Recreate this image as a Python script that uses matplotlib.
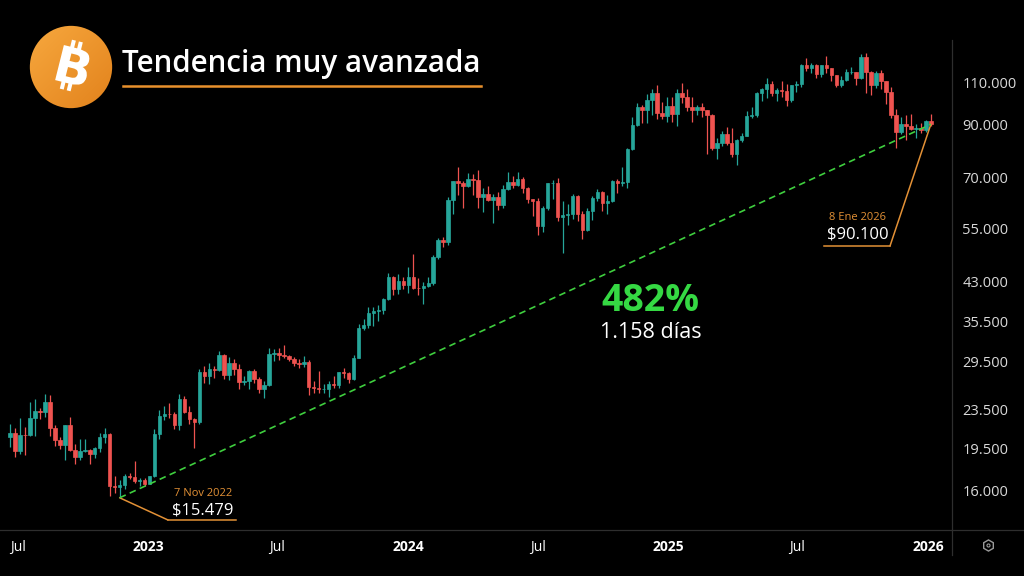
import datetime as dt
import numpy as np
import matplotlib
matplotlib.use("Agg")
import matplotlib.pyplot as plt
import matplotlib.dates as mdates
from matplotlib.lines import Line2D
from matplotlib.patches import Circle, PathPatch
from matplotlib.ticker import NullLocator
from matplotlib.textpath import TextPath
from matplotlib.font_manager import FontProperties
from matplotlib.transforms import Affine2D

plt.rcParams['font.family'] = ['Open Sans', 'DejaVu Sans']

# ---------------- data (weekly BTC candles, thousands of USD) ----------------
first_week = dt.datetime(2022, 6, 20)

opens_2022 = [20.57, 21.03, 19.30, 20.85, 20.78, 22.58, 23.30, 23.18, 24.31, 21.52, 20.28, 19.83, 21.83, 19.42,
              18.80, 19.31, 19.42, 19.07, 19.57, 20.63, 20.92, 16.33, 16.29, 16.44, 17.12, 17.10, 16.74, 16.84]
highs_2022 = [21.87, 21.48, 22.50, 21.60, 24.28, 24.67, 23.65, 25.21, 25.10, 21.80, 20.58, 21.86, 22.67, 19.95,
              20.38, 20.47, 19.52, 19.70, 20.98, 21.48, 21.05, 17.19, 16.82, 17.32, 17.42, 18.39, 16.96, 16.96]
lows_2022 = [19.64, 18.78, 19.00, 18.91, 20.76, 20.71, 22.40, 22.66, 20.76, 19.80, 19.52, 18.54, 19.32, 18.15,
             18.47, 19.20, 18.19, 18.65, 19.23, 20.05, 15.59, 15.81, 15.479, 16.11, 16.88, 16.56, 16.40, 16.33]
closes_2022 = [21.03, 19.30, 20.85, 20.78, 22.58, 23.30, 23.18, 24.31, 21.52, 20.28, 19.83, 21.83, 19.42, 18.80,
               19.31, 19.42, 19.07, 19.57, 20.63, 20.92, 16.33, 16.29, 16.44, 17.12, 17.10, 16.74, 16.84, 16.55]

opens_2023 = [16.55, 17.12, 20.88, 22.71, 23.03, 22.93, 21.78, 24.63, 23.18, 22.43, 22.13, 28.04, 27.48, 28.45,
              28.32, 30.31, 27.59, 29.23, 28.43, 26.77, 26.85, 28.08, 27.12, 25.85, 26.34, 30.54, 30.59, 30.29,
              30.23, 29.80, 29.28, 29.05, 29.40, 26.09, 26.01, 25.82, 25.82, 26.53, 26.30, 27.98, 27.92, 27.15,
              29.99, 34.53, 35.01, 37.06, 37.39, 37.45, 39.46, 43.77, 41.37, 42.99]
highs_2023 = [17.18, 21.44, 23.37, 23.82, 24.25, 23.16, 25.25, 25.02, 23.89, 22.60, 28.47, 28.87, 29.18, 28.75,
              31.00, 30.48, 30.04, 29.84, 29.06, 27.49, 28.26, 28.45, 27.40, 26.80, 31.43, 31.28, 31.38, 31.82,
              30.35, 30.08, 29.73, 30.24, 29.69, 26.80, 28.15, 26.43, 26.83, 27.48, 28.05, 28.58, 28.00, 30.38,
              35.20, 35.98, 38.00, 37.98, 38.42, 39.79, 44.72, 44.04, 44.40, 43.80]
lows_2023 = [16.52, 17.10, 20.41, 22.30, 22.54, 21.45, 21.35, 23.11, 21.97, 19.57, 21.90, 26.60, 26.51, 27.20,
             28.20, 27.12, 26.94, 27.66, 25.81, 26.33, 25.88, 26.57, 25.35, 24.75, 26.26, 29.52, 29.70, 29.95,
             29.50, 28.86, 28.57, 28.70, 25.17, 25.36, 25.37, 25.33, 24.90, 26.00, 25.99, 27.25, 26.54, 26.96,
             29.88, 34.08, 34.52, 34.80, 35.63, 36.87, 39.29, 40.23, 40.52, 41.52]
closes_2023 = [17.12, 20.88, 22.71, 23.03, 22.93, 21.78, 24.63, 23.18, 22.43, 22.13, 28.04, 27.48, 28.45, 28.32,
               30.31, 27.59, 29.23, 28.43, 26.77, 26.85, 28.08, 27.12, 25.85, 26.34, 30.54, 30.59, 30.29, 30.23,
               29.80, 29.28, 29.05, 29.40, 26.09, 26.01, 25.82, 25.82, 26.53, 26.30, 27.98, 27.92, 27.15, 29.99,
               34.53, 35.01, 37.06, 37.39, 37.45, 39.46, 43.77, 41.37, 42.99, 42.28]

opens_2024 = [42.28, 43.94, 41.73, 41.58, 42.03, 42.58, 48.30, 52.14, 51.73, 63.11, 68.96, 68.39, 67.21, 69.65,
              69.36, 64.01, 64.94, 63.12, 63.89, 61.48, 66.27, 68.50, 67.75, 69.65, 66.64, 63.21, 62.68, 55.86,
              60.80, 68.16, 68.25, 58.12, 58.71, 58.91, 64.22, 58.97, 54.84, 59.99, 63.58, 65.60, 62.09, 62.85,
              69.00, 68.42, 68.74, 80.37, 89.85, 97.70, 96.41, 101.17, 104.46, 95.19, 93.72]
highs_2024 = [45.88, 48.97, 43.58, 42.84, 43.86, 48.59, 52.82, 52.98, 64.00, 69.00, 73.78, 68.92, 71.77, 71.34,
              72.80, 66.88, 67.24, 64.73, 65.50, 67.70, 71.98, 70.62, 71.95, 70.20, 66.95, 63.38, 63.78, 61.35,
              68.30, 69.40, 70.08, 62.75, 61.80, 65.00, 64.50, 59.81, 60.67, 64.13, 66.50, 65.90, 64.50, 69.40,
              69.50, 73.62, 80.52, 93.48, 99.59, 98.70, 104.09, 106.53, 108.35, 99.96, 102.72]
lows_2024 = [40.75, 41.50, 40.28, 38.56, 41.82, 42.26, 47.72, 50.55, 50.90, 59.00, 64.50, 60.78, 66.90, 64.49,
             60.66, 59.60, 62.79, 56.55, 60.19, 60.75, 66.06, 66.65, 67.47, 65.06, 62.26, 58.40, 53.48, 54.27,
             60.05, 63.45, 57.12, 49.00, 56.12, 57.78, 57.20, 52.55, 54.59, 57.49, 62.70, 59.83, 58.95, 62.59,
             65.05, 67.48, 66.84, 79.96, 89.38, 90.79, 90.50, 94.25, 92.23, 92.60, 91.22]
closes_2024 = [43.94, 41.73, 41.58, 42.03, 42.58, 48.30, 52.14, 51.73, 63.11, 68.96, 68.39, 67.21, 69.65, 69.36,
               64.01, 64.94, 63.12, 63.89, 61.48, 66.27, 68.50, 67.75, 69.65, 66.64, 63.21, 62.68, 55.86, 60.80,
               68.16, 68.25, 58.12, 58.71, 58.91, 64.22, 58.97, 54.84, 59.99, 63.58, 65.60, 62.09, 62.85, 69.00,
               68.42, 68.74, 80.37, 89.85, 97.70, 96.41, 101.17, 104.46, 95.19, 93.72, 98.36]

opens_2025 = [98.36, 94.55, 104.56, 102.62, 97.70, 96.46, 97.58, 96.26, 94.27, 80.73, 82.58, 86.08, 82.39, 78.37,
              83.73, 85.17, 93.75, 94.28, 104.64, 106.45, 109.00, 104.64, 105.73, 105.59, 100.96, 108.36, 109.20,
              119.09, 117.27, 119.45, 114.21, 119.31, 117.41, 113.49, 108.24, 111.14, 115.27, 115.31, 112.16,
              123.51, 115.07, 108.64, 114.57, 110.54, 104.72, 94.26, 86.83, 90.39, 89.40, 88.17, 88.40, 87.80,
              91.40]
highs_2025 = [102.72, 106.42, 109.59, 106.46, 102.50, 98.83, 99.48, 96.50, 94.42, 84.54, 87.45, 88.77, 88.50, 83.99,
              86.50, 95.76, 97.90, 104.97, 107.11, 111.98, 110.72, 106.80, 110.50, 108.95, 108.53, 110.53, 119.49,
              123.22, 120.25, 119.80, 119.40, 124.47, 117.54, 113.64, 113.38, 116.78, 117.90, 115.42, 125.70,
              126.20, 115.97, 116.04, 116.40, 110.77, 107.50, 96.64, 93.09, 94.17, 94.59, 90.40, 90.55, 91.90,
              94.70]
lows_2025 = [91.20, 89.26, 99.50, 96.15, 91.23, 94.09, 93.39, 78.26, 80.00, 76.61, 81.18, 81.65, 77.15, 74.51,
             83.01, 85.14, 92.80, 93.38, 100.72, 102.00, 103.07, 100.37, 102.66, 98.20, 100.00, 105.10, 107.47,
             115.74, 114.72, 112.00, 112.65, 114.66, 110.68, 107.35, 107.26, 110.62, 114.38, 108.65, 111.56,
             104.58, 103.53, 106.79, 106.30, 98.94, 93.01, 80.60, 86.11, 83.82, 87.70, 84.40, 86.60, 86.90,
             89.30]
closes_2025 = [94.55, 104.56, 102.62, 97.70, 96.46, 97.58, 96.26, 94.27, 80.73, 82.58, 86.08, 82.39, 78.37, 83.73,
               85.17, 93.75, 94.28, 104.64, 106.45, 109.00, 104.64, 105.73, 105.59, 100.96, 108.36, 109.20, 119.09,
               117.27, 119.45, 114.21, 119.31, 117.41, 113.49, 108.24, 111.14, 115.27, 115.31, 112.16, 123.51,
               115.07, 108.64, 114.57, 110.54, 104.72, 94.26, 86.83, 90.39, 89.40, 88.17, 88.40, 87.80, 91.40,
               90.10]

y_ticks = [16000, 19500, 23500, 29500, 35500, 43000, 55000, 70000, 90000, 110000]
y_tick_labels = ['16.000', '19.500', '23.500', '29.500', '35.500', '43.000', '55.000', '70.000', '90.000', '110.000']
x_tick_dates = [dt.datetime(2022, 7, 1), dt.datetime(2023, 1, 1), dt.datetime(2023, 7, 1), dt.datetime(2024, 1, 1),
                dt.datetime(2024, 7, 1), dt.datetime(2025, 1, 1), dt.datetime(2025, 7, 1), dt.datetime(2026, 1, 1)]
x_tick_labels = ['Jul', '2023', 'Jul', '2024', 'Jul', '2025', 'Jul', '2026']

title = 'Tendencia muy avanzada'
pct_text = '482%'
days_text = '1.158 días'
low_date_text, low_price_text = '7 Nov 2022', '$15.479'
last_date_text, last_price_text = '8 Ene 2026', '$90.100'

# ---------------------------------------------------------------------------
opens = np.array(opens_2022 + opens_2023 + opens_2024 + opens_2025) * 1000
highs = np.array(highs_2022 + highs_2023 + highs_2024 + highs_2025) * 1000
lows = np.array(lows_2022 + lows_2023 + lows_2024 + lows_2025) * 1000
closes = np.array(closes_2022 + closes_2023 + closes_2024 + closes_2025) * 1000
dates = [first_week + dt.timedelta(weeks=i) for i in range(len(closes))]
xs = mdates.date2num(dates)

W, H = 1024, 576
fig = plt.figure(figsize=(W / 100, H / 100), dpi=100, facecolor='black')
AX_R, AX_B = 952, 530
ax = fig.add_axes([0, (H - AX_B) / H, AX_R / W, AX_B / H])
ax.set_facecolor('black')

GREEN, RED = '#26a69a', '#ef5350'
cols = np.where(closes >= opens, GREEN, RED)
ax.vlines(xs, lows, highs, colors=cols, lw=0.9, zorder=2)
ax.bar(xs, closes - opens, bottom=opens, width=4.8, color=cols, edgecolor=cols, linewidth=0.5, zorder=3)

ax.set_yscale('log')
ax.set_ylim(13296, 161950)
k = 910 / 1280.0  # px per day
ax.set_xlim(mdates.date2num(dt.datetime(2022, 7, 1)) - 18 / k,
            mdates.date2num(dt.datetime(2026, 1, 1)) + (AX_R - 928) / k)

ax.yaxis.tick_right()
ax.set_yticks(y_ticks)
ax.set_yticklabels(y_tick_labels)
ax.yaxis.set_minor_locator(NullLocator())
ax.tick_params(axis='y', length=0, pad=7.5, labelsize=10.5, labelcolor='#d9d9d9')

ax.set_xticks(mdates.date2num(x_tick_dates))
ax.set_xticklabels(x_tick_labels)
ax.tick_params(axis='x', length=0, pad=7, labelsize=10, labelcolor='white')
for lab in ax.get_xticklabels():
    if lab.get_text().isdigit():
        lab.set_fontweight('bold')
for s in ax.spines.values():
    s.set_visible(False)

# separators
fig.add_artist(Line2D([AX_R / W, AX_R / W], [1 - 40 / H, 1 - 555 / H], transform=fig.transFigure,
                      color='#2e2e2e', lw=0.9))
fig.add_artist(Line2D([0, 1], [1 - AX_B / H] * 2, transform=fig.transFigure, color='#2e2e2e', lw=0.9))
fig.add_artist(Line2D([988 / W], [1 - 545 / H], marker='h', ms=8, mfc='none', mec='#9a9a9a', mew=1,
                      transform=fig.transFigure))
fig.add_artist(Line2D([988 / W], [1 - 545 / H], marker='o', ms=2.2, mfc='none', mec='#9a9a9a', mew=0.8,
                      transform=fig.transFigure))

# trend line
i_low = int(np.argmin(lows))
ax.plot([xs[i_low], xs[-1]], [lows[i_low], closes[-1]], color='#3fcf3f', lw=1.2, ls=(0, (4, 2.6)), zorder=4)

ORANGE = '#e39136'
# low annotation
ax.annotate('', xy=(xs[i_low], lows[i_low]), xycoords='data', xytext=(168, H - 520), textcoords='figure pixels',
            arrowprops=dict(arrowstyle='-', color=ORANGE, lw=1.1, shrinkA=0, shrinkB=0))
fig.add_artist(Line2D([168 / W, 236 / W], [1 - 520 / H] * 2, transform=fig.transFigure, color=ORANGE, lw=1.1))
fig.text(174 / W, 1 - 493 / H, low_date_text, color=ORANGE, fontsize=8, va='center', ha='left')
fig.text(172 / W, 1 - 510 / H, low_price_text, color='white', fontsize=12, va='center', ha='left')

# last annotation
ax.annotate('', xy=(xs[-1], closes[-1]), xycoords='data', xytext=(890, H - 246), textcoords='figure pixels',
            arrowprops=dict(arrowstyle='-', color=ORANGE, lw=1.1, shrinkA=0, shrinkB=0))
fig.add_artist(Line2D([824 / W, 890 / W], [1 - 246 / H] * 2, transform=fig.transFigure, color=ORANGE, lw=1.1))
fig.text(829 / W, 1 - 218 / H, last_date_text, color=ORANGE, fontsize=8, va='center', ha='left')
fig.text(827 / W, 1 - 234 / H, last_price_text, color='white', fontsize=12, va='center', ha='left')

# center texts
fig.text(650 / W, 1 - 301 / H, pct_text, color='#35d843', fontsize=27, fontweight='bold', ha='center', va='center')
fig.text(651 / W, 1 - 333 / H, days_text, color='white', fontsize=15.5, ha='center', va='center')

# title
fig.text(122 / W, 1 - 64 / H, title, color='white', fontsize=21.3, fontweight='semibold', ha='left', va='center')
fig.add_artist(Line2D([123 / W, 481 / W], [1 - 86 / H] * 2, transform=fig.transFigure, color='#e8912d', lw=1.8))

# bitcoin badge
axb = fig.add_axes([29 / W, 1 - 109 / H, 84 / W, 84 / H])
axb.set_xlim(-1, 1)
axb.set_ylim(-1, 1)
axb.axis('off')
circ = Circle((0, 0), 0.98, transform=axb.transData, facecolor='none', edgecolor='none')
axb.add_patch(circ)
gx, gy = np.meshgrid(np.linspace(0, 1, 80), np.linspace(0, 1, 80))
grad = (gx + gy) / 2
img = axb.imshow(grad, extent=(-1, 1, -1, 1), origin='upper', aspect='auto',
                 cmap=matplotlib.colors.LinearSegmentedColormap.from_list('o', ['#f7a83e', '#e2821c']))
img.set_clip_path(circ)

tp = TextPath((0, 0), 'B', size=1, prop=FontProperties(family='DejaVu Sans', weight='bold'))
ext = tp.get_extents()
bh = 0.86
sc = bh / ext.height
cx, cy = 0.07, 0.02
tr = (Affine2D().translate(-(ext.x0 + ext.x1) / 2, -(ext.y0 + ext.y1) / 2).scale(sc)
      .rotate_deg(-14).translate(cx, cy))
axb.add_patch(PathPatch(tr.transform_path(tp), facecolor='white', edgecolor='none'))
rot = Affine2D().rotate_deg(-14).translate(cx, cy)
for sx in (-0.15, 0.02):
    for y0, y1 in ((0.35, 0.60), (-0.35, -0.60)):
        p = rot.transform([[sx, y0], [sx, y1]])
        axb.plot(p[:, 0], p[:, 1], color='white', lw=2.9, solid_capstyle='butt')

fig.savefig('out.png', dpi=100, facecolor='black')
